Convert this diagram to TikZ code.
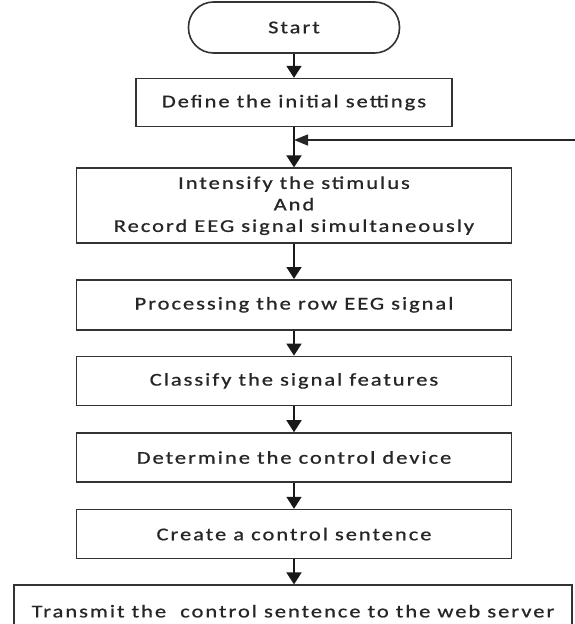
\documentclass[tikz,border=0pt]{standalone}
\usepackage{fontspec}
\setmainfont{Carlito}[FakeStretch=1.25, FakeBold=0.8, LetterSpace=11]
\usepackage{tikz}
\usetikzlibrary{arrows.meta}
\usetikzlibrary{positioning}

\tikzset{
    flow/.style={draw=black!80, line width=1.6pt, text=black!85, font=\fontsize{18}{21.5}\selectfont,
        align=center, inner sep=0pt},
    stepbox/.style={flow, rectangle, minimum width=435pt, minimum height=49pt},
    arr/.style={line width=1.8pt, black!90, -{Triangle[length=12pt,width=15pt]}},
    back/.style={line width=1.5pt, black!85, -{Triangle[length=14pt,width=11pt]}}
}

\begin{document}
\begin{tikzpicture}[x=1pt,y=1pt]
        \useasboundingbox[fill=white] (0,0) rectangle (575,-624);
        \node[flow, rounded corners=25pt, minimum width=211pt, minimum height=51pt] (start) at (294,-27.5) {Start};
        \node[stepbox, minimum width=316pt, minimum height=48pt, below=24pt of start] (init) {Define the initial settings};
        \node[stepbox, minimum height=75pt, below=40pt of init] (stim) {Intensify the stimulus\\And\\Record EEG signal simultaneously};
        \node[stepbox, minimum height=50pt, below=35pt of stim] (proc) {Processing the row EEG signal};
        \node[stepbox, below=25pt of proc] (clas) {Classify the signal features};
        \node[stepbox, below=26pt of clas] (dev) {Determine the control device};
        \node[stepbox, below=26pt of dev] (sent) {Create a control sentence};
        \node[stepbox, minimum width=558pt, minimum height=52pt, below=25pt of sent, xshift=-1pt] (send) {Transmit the \ control sentence to the web server};

        \draw[arr] (start) -- (init);
        \draw[arr] (init) -- (stim);
        \draw[arr] (stim) -- (proc);
        \draw[arr] (proc) -- (clas);
        \draw[arr] (clas) -- (dev);
        \draw[arr] (dev) -- (sent);
        \draw[arr] (sent) -- (send.north -| sent.south);
        % loop back from the right edge
        \coordinate (fb) at (575,-140);
        \draw[back] (fb) -- (fb -| init.south);
\end{tikzpicture}
\end{document}
